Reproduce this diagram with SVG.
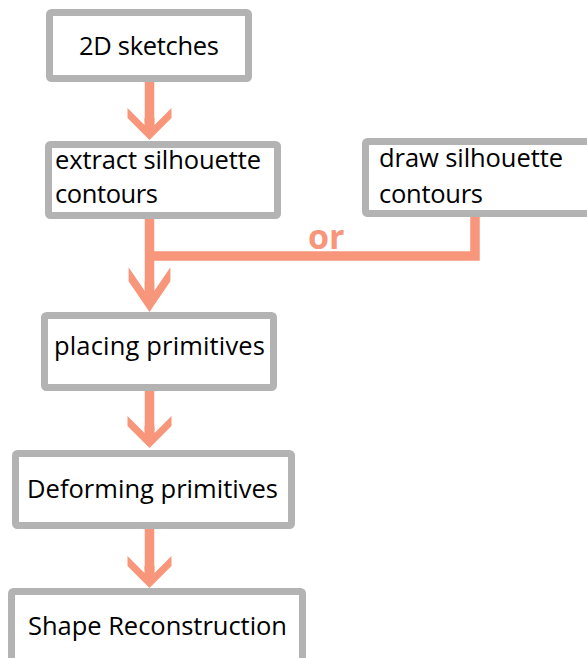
<svg xmlns="http://www.w3.org/2000/svg" width="587" height="658" viewBox="0 0 587 658">
<style>
.box{fill:#fff;stroke:#b3b3b3;stroke-width:7}
.lbl{font-family:"Open Sans","Noto Sans",sans-serif;font-size:25.5px;fill:#000;font-variant-ligatures:none}
.con{fill:none;stroke:#f7967a;stroke-width:9.5;stroke-linejoin:miter}
.head{fill:#f7967a}
.or{font-family:"Open Sans","Noto Sans",sans-serif;font-weight:bold;font-size:34px;fill:#f7967a}
</style>
<defs>
<path id="ah" d="M0,0 L-22,-22 L-22,-32 L-5,-15 L-5,-22 L5,-22 L5,-15 L22,-32 L22,-22 Z"/>
</defs>
<rect width="587" height="658" fill="#fff"/>
<g id="connectors">
<line class="con" x1="149.5" y1="82" x2="149.5" y2="122"/>
<use href="#ah" class="head" transform="translate(149.5,140)"/>
<polyline class="con" points="149.5,256 475,256 475,217"/>
<line class="con" x1="149.5" y1="219" x2="149.5" y2="290"/>
<use href="#ah" class="head" transform="translate(149.5,312) scale(0.95,1.4)"/>
<line class="con" x1="149.5" y1="391" x2="149.5" y2="430"/>
<use href="#ah" class="head" transform="translate(149.5,448)"/>
<line class="con" x1="149.5" y1="529" x2="149.5" y2="570"/>
<use href="#ah" class="head" transform="translate(149.5,588)"/>
<text class="or" x="308" y="249">or</text>
</g>
<g id="n1">
<rect class="box" x="49.5" y="12.5" width="199" height="66" rx="2"/>
<text class="lbl" x="79" y="55" textLength="140">2D sketches</text>
</g>
<g id="n2">
<rect class="box" x="48.5" y="144.5" width="229" height="71" rx="2"/>
<text class="lbl" x="55" y="169" textLength="206">extract silhouette</text>
<text class="lbl" x="55" y="203" textLength="103">contours</text>
</g>
<g id="n3">
<rect class="box" x="365.5" y="141.5" width="240" height="72" rx="2"/>
<text class="lbl" x="379" y="167" textLength="184">draw silhouette</text>
<text class="lbl" x="379" y="203" textLength="104">contours</text>
</g>
<g id="n4">
<rect class="box" x="44.5" y="315.5" width="229" height="72" rx="2"/>
<text class="lbl" x="54" y="355" textLength="211">placing primitives</text>
</g>
<g id="n5">
<rect class="box" x="15.5" y="453.5" width="276" height="72" rx="2"/>
<text class="lbl" x="27" y="498" textLength="251">Deforming primitives</text>
</g>
<g id="n6">
<rect class="box" x="11.5" y="591.5" width="291" height="80" rx="2"/>
<text class="lbl" x="28" y="635" textLength="259">Shape Reconstruction</text>
</g>
</svg>
